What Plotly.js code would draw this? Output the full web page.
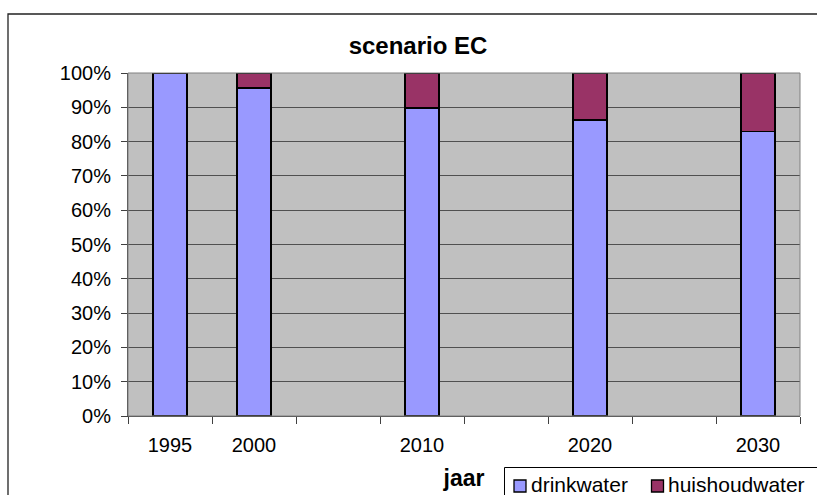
<!DOCTYPE html>
<html>
<head>
<meta charset="utf-8">
<script src="https://cdn.plot.ly/plotly-3.0.1.min.js"></script>
<style>html,body{margin:0;padding:0;background:#fff;}#chart{width:817px;height:495px;}</style>
</head>
<body>
<div id="chart"></div>
<script>
// Data
var allYears = ["1995", "2000", "2005", "2010", "2015", "2020", "2025", "2030"];
var xTickLabels = ["1995", "2000", "", "2010", "", "2020", "", "2030"];
var years = ["1995", "2000", "2010", "2020", "2030"];
var drinkwater = [100, 95.6, 89.8, 86.3, 82.9];
var huishoudwater = [0, 4.4, 10.2, 13.7, 17.1];
var yTickVals = [0, 10, 20, 30, 40, 50, 60, 70, 80, 90, 100];
var yTickLabels = ["0%", "10%", "20%", "30%", "40%", "50%", "60%", "70%", "80%", "90%", "100%"];
var seriesNames = ["drinkwater", "huishoudwater"];
var seriesColors = ["#9999FF", "#993366"];

var FONT = "Arial, 'Liberation Sans', sans-serif";

var traces = [
  {
    type: "bar", name: seriesNames[0], x: years, y: drinkwater, width: 0.405,
    marker: {color: seriesColors[0], line: {color: "#000000", width: 1.5}},
    hoverinfo: "skip"
  },
  {
    type: "bar", name: seriesNames[1], x: years, y: huishoudwater, width: 0.405,
    marker: {color: seriesColors[1], line: {color: "#000000", width: 1.5}},
    hoverinfo: "skip"
  }
];

// Plot area in pixels: x 128..800, y 73..416
function px(xp) { return (xp - 128) / 672; }
function py(yp) { return (416 - yp) / 343; }

var shapes = [
  // plot-area border
  {type: "rect", xref: "paper", yref: "paper", x0: 0, x1: 1, y0: 0, y1: 1,
   line: {color: "#808080", width: 1}, fillcolor: "rgba(0,0,0,0)", layer: "above"},
  // chart-area border
  {type: "rect", xref: "paper", yref: "paper", x0: px(8), x1: 1.05, y0: -0.3, y1: py(14),
   line: {color: "#222222", width: 1.3}, fillcolor: "rgba(0,0,0,0)", layer: "above"},
  // legend box
  {type: "rect", xref: "paper", yref: "paper", x0: px(504.5), x1: 1.05, y0: -0.3, y1: py(467.5),
   line: {color: "#000000", width: 1}, fillcolor: "#FFFFFF", layer: "above"},
  // legend keys
  {type: "rect", xref: "paper", yref: "paper", x0: px(514), x1: px(526), y0: py(492), y1: py(480),
   line: {color: "#000000", width: 1.3}, fillcolor: seriesColors[0], layer: "above"},
  {type: "rect", xref: "paper", yref: "paper", x0: px(651.5), x1: px(663.5), y0: py(492), y1: py(480),
   line: {color: "#000000", width: 1.3}, fillcolor: seriesColors[1], layer: "above"}
];

var annotations = [
  {xref: "paper", yref: "paper", x: px(530), y: py(484), xanchor: "left", yanchor: "middle",
   text: seriesNames[0], showarrow: false, borderpad: 0,
   font: {family: FONT, size: 21, color: "#000000"}},
  {xref: "paper", yref: "paper", x: px(667), y: py(484), xanchor: "left", yanchor: "middle",
   text: seriesNames[1], showarrow: false, borderpad: 0,
   font: {family: FONT, size: 21, color: "#000000"}}
];

var layout = {
  width: 817, height: 495,
  margin: {l: 128, r: 17, t: 73, b: 79, autoexpand: false},
  paper_bgcolor: "#FFFFFF",
  plot_bgcolor: "#C0C0C0",
  barmode: "stack",
  font: {family: FONT, size: 20, color: "#000000"},
  title: {
    text: "<b>scenario EC</b>",
    font: {family: FONT, size: 24, color: "#000000"},
    xref: "paper", x: px(418), xanchor: "center",
    yref: "container", y: 1 - 46/495, yanchor: "middle"
  },
  xaxis: {
    type: "category",
    categoryorder: "array", categoryarray: allYears,
    tickmode: "array", tickvals: allYears, ticktext: xTickLabels,
    tickson: "boundaries",
    range: [-0.5, 7.5],
    ticks: "outside", ticklen: 7, tickwidth: 1, tickcolor: "#404040",
    ticklabelstandoff: 11,
    showline: true, linecolor: "#404040", linewidth: 1,
    showgrid: false, zeroline: false,
    tickfont: {family: FONT, size: 20, color: "#000000"},
    title: {text: "<b>jaar</b>", font: {family: FONT, size: 23, color: "#000000"}, standoff: 14}
  },
  yaxis: {
    range: [0, 100],
    tickmode: "array", tickvals: yTickVals, ticktext: yTickLabels,
    ticks: "outside", ticklen: 6, tickwidth: 1, tickcolor: "#404040",
    ticklabelstandoff: 6,
    showline: true, linecolor: "#404040", linewidth: 1,
    showgrid: true, gridcolor: "#505050", gridwidth: 1,
    zeroline: false,
    tickfont: {family: FONT, size: 20, color: "#000000"}
  },
  showlegend: false,
  shapes: shapes,
  annotations: annotations
};

Plotly.newPlot("chart", traces, layout, {staticPlot: true, displayModeBar: false});
</script>
</body>
</html>
